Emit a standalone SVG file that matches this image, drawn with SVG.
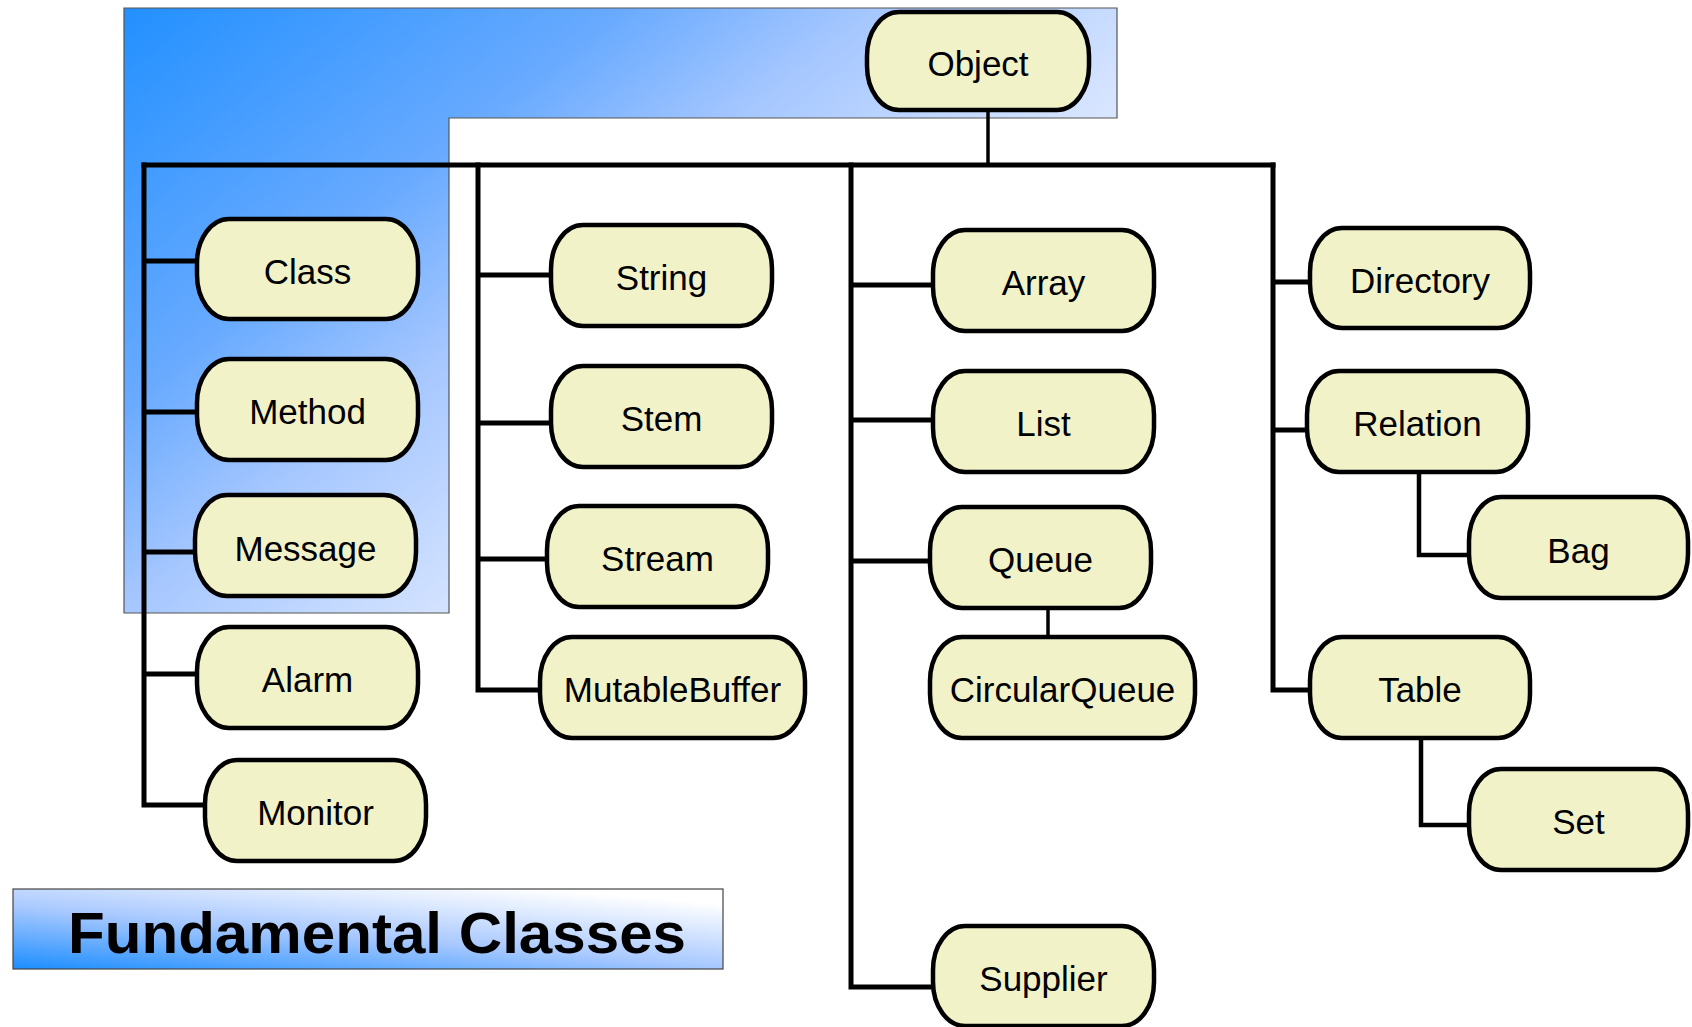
<svg xmlns="http://www.w3.org/2000/svg" width="1692" height="1027" viewBox="0 0 1692 1027">
<defs>
<linearGradient id="gL" gradientUnits="userSpaceOnUse" x1="124" y1="8" x2="607" y2="613">
<stop offset="0" stop-color="#2290FF"/>
<stop offset="0.4" stop-color="#68AAFF"/>
<stop offset="0.6" stop-color="#A4C6FF"/>
<stop offset="0.8" stop-color="#C8DCFF"/>
<stop offset="1" stop-color="#E8EEFF"/>
</linearGradient>
<linearGradient id="gT" x1="0" y1="1" x2="0.75" y2="0">
<stop offset="0" stop-color="#1C8DFF"/>
<stop offset="0.5" stop-color="#A9C9FF"/>
<stop offset="1" stop-color="#FFFFFF"/>
</linearGradient>
</defs>
<style>
.n{fill:#F2F2C9;stroke:#000;stroke-width:4.5}
.t{font-family:"Liberation Sans",Arial,sans-serif;font-size:35px;fill:#000;text-anchor:middle;dominant-baseline:central}
.c{fill:none;stroke:#000;stroke-width:5;stroke-linecap:square}
.c2{fill:none;stroke:#000;stroke-width:3.5}
.c3{fill:none;stroke:#000;stroke-width:4.5;stroke-linecap:square}
</style>
<rect width="1692" height="1027" fill="#fff"/>
<g id="background">
<path d="M124,8 H1117 V118 H449 V613 H124 Z" fill="url(#gL)" stroke="#555" stroke-width="1.2"/>
</g>
<g id="connectors">
<path class="c2" d="M988,110 V165"/>
<path class="c" d="M144,165 H1273"/>
<path class="c" d="M144,165 V805 M144,261 H197 M144,412 H197 M144,552 H195 M144,674 H197 M144,805 H205"/>
<path class="c" d="M478,165 V690 M478,275 H551 M478,423 H551 M478,559 H547 M478,690 H540"/>
<path class="c" d="M851,165 V987 M851,285 H933 M851,420 H933 M851,561 H929 M851,987 H933"/>
<path class="c2" d="M1048,608 V637"/>
<path class="c" d="M1273,165 V690 M1273,282 H1310 M1273,430 H1307 M1273,690 H1310"/>
<path class="c3" d="M1419,472 V555 H1469"/>
<path class="c3" d="M1421,738 V825 H1469"/>
</g>
<g id="node-object"><rect class="n" x="867" y="12" width="222" height="98" rx="32" ry="44"/><text class="t" x="978" y="63">Object</text></g>
<g id="node-class"><rect class="n" x="197" y="219" width="221" height="100" rx="32" ry="44"/><text class="t" x="307.5" y="271">Class</text></g>
<g id="node-method"><rect class="n" x="197" y="359" width="221" height="101" rx="32" ry="44"/><text class="t" x="307.5" y="411">Method</text></g>
<g id="node-message"><rect class="n" x="195" y="495" width="221" height="101" rx="32" ry="44"/><text class="t" x="305.5" y="548">Message</text></g>
<g id="node-alarm"><rect class="n" x="197" y="627" width="221" height="101" rx="32" ry="44"/><text class="t" x="307.5" y="679">Alarm</text></g>
<g id="node-monitor"><rect class="n" x="205" y="760" width="221" height="101" rx="32" ry="44"/><text class="t" x="315.5" y="812">Monitor</text></g>
<g id="node-string"><rect class="n" x="551" y="225" width="221" height="101" rx="32" ry="44"/><text class="t" x="661.5" y="277">String</text></g>
<g id="node-stem"><rect class="n" x="551" y="366" width="221" height="101" rx="32" ry="44"/><text class="t" x="661.5" y="418">Stem</text></g>
<g id="node-stream"><rect class="n" x="547" y="506" width="221" height="101" rx="32" ry="44"/><text class="t" x="657.5" y="558">Stream</text></g>
<g id="node-mutablebuffer"><rect class="n" x="540" y="637" width="265" height="101" rx="32" ry="44"/><text class="t" x="672.5" y="689">MutableBuffer</text></g>
<g id="node-array"><rect class="n" x="933" y="230" width="221" height="101" rx="32" ry="44"/><text class="t" x="1043.5" y="282">Array</text></g>
<g id="node-list"><rect class="n" x="933" y="371" width="221" height="101" rx="32" ry="44"/><text class="t" x="1043.5" y="423">List</text></g>
<g id="node-queue"><rect class="n" x="930" y="507" width="221" height="101" rx="32" ry="44"/><text class="t" x="1040.5" y="559">Queue</text></g>
<g id="node-circularqueue"><rect class="n" x="930" y="637" width="265" height="101" rx="32" ry="44"/><text class="t" x="1062.5" y="689">CircularQueue</text></g>
<g id="node-supplier"><rect class="n" x="933" y="926" width="221" height="100" rx="32" ry="44"/><text class="t" x="1043.5" y="978">Supplier</text></g>
<g id="node-directory"><rect class="n" x="1310" y="228" width="220" height="100" rx="32" ry="44"/><text class="t" x="1420" y="280">Directory</text></g>
<g id="node-relation"><rect class="n" x="1307" y="371" width="221" height="101" rx="32" ry="44"/><text class="t" x="1417.5" y="423">Relation</text></g>
<g id="node-bag"><rect class="n" x="1469" y="497" width="219" height="101" rx="32" ry="44"/><text class="t" x="1578.5" y="550">Bag</text></g>
<g id="node-table"><rect class="n" x="1310" y="637" width="220" height="101" rx="32" ry="44"/><text class="t" x="1420" y="689">Table</text></g>
<g id="node-set"><rect class="n" x="1469" y="769" width="219" height="101" rx="32" ry="44"/><text class="t" x="1578.5" y="821">Set</text></g>
<g id="title">
<rect x="13" y="889" width="710" height="80" fill="url(#gT)" stroke="#444" stroke-width="1.2"/>
<text x="377" y="953" font-family="'Liberation Sans',Arial,sans-serif" font-size="58" font-weight="bold" text-anchor="middle" textLength="618" lengthAdjust="spacingAndGlyphs">Fundamental Classes</text>
</g>
</svg>
